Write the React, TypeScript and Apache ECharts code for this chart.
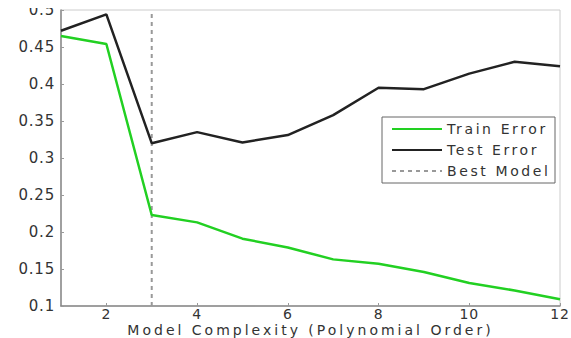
import React, { useEffect, useRef } from "react";
import * as echarts from "echarts";

const orders = [1, 2, 3, 4, 5, 6, 7, 8, 9, 10, 11, 12];
const trainError = [0.465, 0.454, 0.223, 0.213, 0.191, 0.179, 0.163, 0.157, 0.146, 0.131, 0.121, 0.109];
const testError = [0.472, 0.494, 0.32, 0.335, 0.321, 0.331, 0.358, 0.395, 0.393, 0.414, 0.43, 0.424];
const bestModel = 3;
const xTicks = [2, 4, 6, 8, 10, 12];
const seriesNames = ["Train Error", "Test Error", "Best Model"];
const xTitle = "Model Complexity (Polynomial Order)";

export default function App() {
  const ref = useRef<HTMLDivElement>(null);
  useEffect(() => {
    if (!ref.current) return;
    const chart = echarts.init(ref.current, null, { renderer: "svg" });
    const font = "DejaVu Sans";
    const applySpacing = () => {
      const root = ref.current;
      if (!root) return;
      root.querySelectorAll("text").forEach((t) => {
        const s = (t.textContent || "").trim();
        let ls = "0.8px";
        if (s === xTitle) ls = "3px";
        else if (seriesNames.indexOf(s) >= 0) ls = "2.6px";
        (t as SVGTextElement).style.letterSpacing = ls;
      });
    };
    chart.on("finished", applySpacing);
    chart.setOption({
      animation: false,
      backgroundColor: "#ffffff",
      textStyle: { fontFamily: font },
      grid: {
        left: 61,
        right: 11,
        top: 10,
        bottom: 32,
        outerBoundsMode: "none",
        containLabel: false,
        show: true,
        borderColor: "#cccccc",
        borderWidth: 1,
      },
      legend: {
        orient: "vertical",
        left: 391,
        top: 122,
        itemWidth: 50,
        itemHeight: 14,
        itemGap: 7,
        padding: 0,
        itemStyle: { opacity: 0 },
        textStyle: { fontFamily: font, fontSize: 14, color: "#333" },
        data: seriesNames,
        z: 10,
      },
      xAxis: {
        type: "value",
        min: 1,
        max: 12,
        name: xTitle,
        nameLocation: "middle",
        nameGap: 17,
        nameMoveOverlap: false,
        nameTextStyle: { fontFamily: font, fontSize: 14, lineHeight: 14, color: "#333" },
        axisLine: { show: true, lineStyle: { color: "#888", width: 1.5 } },
        axisTick: { show: true, inside: true, length: 3, customValues: xTicks, lineStyle: { color: "#999" } },
        axisLabel: { customValues: xTicks, fontFamily: font, fontSize: 14, lineHeight: 14, color: "#333", margin: 1 },
        splitLine: { show: false },
      },
      yAxis: {
        type: "value",
        min: 0.1,
        max: 0.5,
        interval: 0.05,
        axisLine: { show: true, lineStyle: { color: "#888", width: 1.5 } },
        axisTick: { show: true, inside: true, length: 3, lineStyle: { color: "#999" } },
        axisLabel: { fontFamily: font, fontSize: 15, color: "#333", margin: 6 },
        splitLine: { show: false },
      },
      series: [
        {
          name: seriesNames[0],
          type: "line",
          symbol: "none",
          data: orders.map((x, i) => [x, trainError[i]]),
          lineStyle: { color: "#22d022", width: 2.5 },
          itemStyle: { color: "#22d022" },
          z: 2,
        },
        {
          name: seriesNames[1],
          type: "line",
          symbol: "none",
          data: orders.map((x, i) => [x, testError[i]]),
          lineStyle: { color: "#222222", width: 2.5 },
          itemStyle: { color: "#222222" },
          z: 2,
        },
        {
          name: seriesNames[2],
          type: "line",
          symbol: "none",
          data: [
            [bestModel, 0.1],
            [bestModel, 0.5],
          ],
          lineStyle: { color: "#999999", width: 2, type: [4, 4] },
          itemStyle: { color: "#999999" },
          z: 1,
        },
      ],
      graphic: [
        {
          type: "rect",
          shape: { x: 382, y: 117, width: 173, height: 66 },
          style: { fill: "#ffffff", stroke: "#666666", lineWidth: 1 },
          z: 5,
        },
        {
          type: "rect",
          shape: { x: 0, y: 0, width: 571, height: 8 },
          style: { fill: "#ffffff" },
          z: 100,
        },
      ],
    });
    applySpacing();
    const timer = setTimeout(applySpacing, 50);
    return () => {
      clearTimeout(timer);
      chart.dispose();
    };
  }, []);
  return (
    <div
      ref={ref}
      style={{ position: "fixed", left: 0, top: 0, width: 571, height: 338 }}
    />
  );
}
